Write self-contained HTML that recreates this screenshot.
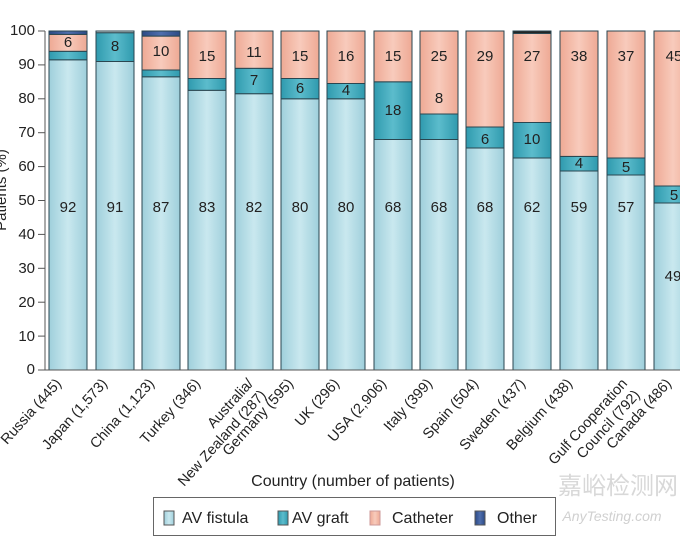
<!DOCTYPE html>
<html><head><meta charset="utf-8"><style>
html,body{margin:0;padding:0;background:#fff;width:680px;height:537px;overflow:hidden}
text{font-family:"Liberation Sans","Noto Sans CJK SC",sans-serif;fill:#222}
</style></head><body>
<svg width="680" height="537" viewBox="0 0 680 537" xmlns="http://www.w3.org/2000/svg">
<defs>
<linearGradient id="gf" x1="0" x2="1"><stop offset="0" stop-color="#9fcfdb"/><stop offset="0.5" stop-color="#c9e8ef"/><stop offset="1" stop-color="#9fcfdb"/></linearGradient>
<linearGradient id="gg" x1="0" x2="1"><stop offset="0" stop-color="#2f9aae"/><stop offset="0.5" stop-color="#5cbccc"/><stop offset="1" stop-color="#2f9aae"/></linearGradient>
<linearGradient id="gc" x1="0" x2="1"><stop offset="0" stop-color="#eea994"/><stop offset="0.5" stop-color="#f8cbbc"/><stop offset="1" stop-color="#eea994"/></linearGradient>
<linearGradient id="go" x1="0" x2="1"><stop offset="0" stop-color="#2c4a85"/><stop offset="0.5" stop-color="#4f6fae"/><stop offset="1" stop-color="#2c4a85"/></linearGradient>
</defs>
<g stroke="#555" stroke-width="1" fill="none">
<line x1="45" y1="31" x2="45" y2="370"/>
<line x1="38" y1="31" x2="45" y2="31"/><line x1="38" y1="64.9" x2="45" y2="64.9"/><line x1="38" y1="98.8" x2="45" y2="98.8"/><line x1="38" y1="132.7" x2="45" y2="132.7"/><line x1="38" y1="166.6" x2="45" y2="166.6"/><line x1="38" y1="200.5" x2="45" y2="200.5"/><line x1="38" y1="234.4" x2="45" y2="234.4"/><line x1="38" y1="268.3" x2="45" y2="268.3"/><line x1="38" y1="302.2" x2="45" y2="302.2"/><line x1="38" y1="336.1" x2="45" y2="336.1"/><line x1="38" y1="370" x2="45" y2="370"/>
</g>
<g font-size="15" text-anchor="end" dominant-baseline="middle">
<text x="35" y="31">100</text><text x="35" y="65">90</text><text x="35" y="99">80</text><text x="35" y="133">70</text><text x="35" y="167">60</text><text x="35" y="201">50</text><text x="35" y="235">40</text><text x="35" y="269">30</text><text x="35" y="303">20</text><text x="35" y="337">10</text><text x="35" y="370">0</text>
</g>
<text transform="translate(6,190) rotate(-90)" font-size="15" text-anchor="middle">Patients (%)</text>
<g stroke="#2a4650" stroke-width="1">
<rect x="49" y="59.8" width="38" height="310.2" fill="url(#gf)"/><rect x="49" y="51.3" width="38" height="8.5" fill="url(#gg)"/><rect x="49" y="34.4" width="38" height="16.9" fill="url(#gc)"/><rect x="49" y="31" width="38" height="3.4" fill="url(#go)"/>
<rect x="96" y="61.5" width="38" height="308.5" fill="url(#gf)"/><rect x="96" y="32.7" width="38" height="28.8" fill="url(#gg)"/><rect x="96" y="31" width="38" height="1.7" fill="#cfd6d6"/>
<rect x="142" y="76.8" width="38" height="293.2" fill="url(#gf)"/><rect x="142" y="70" width="38" height="6.8" fill="url(#gg)"/><rect x="142" y="36.1" width="38" height="33.9" fill="url(#gc)"/><rect x="142" y="31" width="38" height="5.1" fill="url(#go)"/>
<rect x="188" y="90.3" width="38" height="279.7" fill="url(#gf)"/><rect x="188" y="78.5" width="38" height="11.8" fill="url(#gg)"/><rect x="188" y="31" width="38" height="47.5" fill="url(#gc)"/>
<rect x="235" y="93.7" width="38" height="276.3" fill="url(#gf)"/><rect x="235" y="68.3" width="38" height="25.4" fill="url(#gg)"/><rect x="235" y="31" width="38" height="37.3" fill="url(#gc)"/>
<rect x="281" y="98.8" width="38" height="271.2" fill="url(#gf)"/><rect x="281" y="78.5" width="38" height="20.3" fill="url(#gg)"/><rect x="281" y="31" width="38" height="47.5" fill="url(#gc)"/>
<rect x="327" y="98.8" width="38" height="271.2" fill="url(#gf)"/><rect x="327" y="83.5" width="38" height="15.3" fill="url(#gg)"/><rect x="327" y="31" width="38" height="52.5" fill="url(#gc)"/>
<rect x="374" y="139.5" width="38" height="230.5" fill="url(#gf)"/><rect x="374" y="81.8" width="38" height="57.7" fill="url(#gg)"/><rect x="374" y="31" width="38" height="50.8" fill="url(#gc)"/>
<rect x="420" y="139.5" width="38" height="230.5" fill="url(#gf)"/><rect x="420" y="114" width="38" height="25.5" fill="url(#gg)"/><rect x="420" y="31" width="38" height="83" fill="url(#gc)"/>
<rect x="466" y="148" width="38" height="222" fill="url(#gf)"/><rect x="466" y="127" width="38" height="21" fill="url(#gg)"/><rect x="466" y="31" width="38" height="96" fill="url(#gc)"/>
<rect x="513" y="158" width="38" height="212" fill="url(#gf)"/><rect x="513" y="122.5" width="38" height="35.5" fill="url(#gg)"/><rect x="513" y="33.4" width="38" height="89.1" fill="url(#gc)"/><rect x="513" y="31" width="38" height="2.4" fill="#222"/>
<rect x="560" y="171" width="38" height="199" fill="url(#gf)"/><rect x="560" y="156.4" width="38" height="14.6" fill="url(#gg)"/><rect x="560" y="31" width="38" height="125.4" fill="url(#gc)"/>
<rect x="607" y="175" width="38" height="195" fill="url(#gf)"/><rect x="607" y="158" width="38" height="17" fill="url(#gg)"/><rect x="607" y="31" width="38" height="127" fill="url(#gc)"/>
<rect x="654" y="203" width="38" height="167" fill="url(#gf)"/><rect x="654" y="186" width="38" height="17" fill="url(#gg)"/><rect x="654" y="31" width="38" height="155" fill="url(#gc)"/>
</g>
<line x1="45" y1="370" x2="680" y2="370" stroke="#555" stroke-width="1"/>
<g font-size="15" text-anchor="middle" dominant-baseline="middle">
<text x="68" y="208">92</text><text x="115" y="208">91</text><text x="161" y="208">87</text><text x="207" y="208">83</text><text x="254" y="208">82</text><text x="300" y="208">80</text><text x="346" y="208">80</text><text x="393" y="208">68</text><text x="439" y="208">68</text><text x="485" y="208">68</text><text x="532" y="208">62</text><text x="579" y="208">59</text><text x="626" y="208">57</text><text x="673" y="277">49</text>
<text x="115" y="47">8</text><text x="254" y="81">7</text><text x="300" y="89">6</text><text x="346" y="91">4</text><text x="393" y="111">18</text><text x="439" y="99">8</text><text x="485" y="140">6</text><text x="532" y="140">10</text><text x="579" y="164">4</text><text x="626" y="168">5</text><text x="674" y="196">5</text>
<text x="68" y="43">6</text><text x="161" y="52">10</text><text x="207" y="57">15</text><text x="254" y="53">11</text><text x="300" y="57">15</text><text x="346" y="57">16</text><text x="393" y="57">15</text><text x="439" y="57">25</text><text x="485" y="57">29</text><text x="532" y="57">27</text><text x="579" y="57">38</text><text x="626" y="57">37</text><text x="674" y="57">45</text>
</g>
<g font-size="14.5" text-anchor="end">
<text transform="translate(62,384) rotate(-48)">Russia (445)</text>
<text transform="translate(108,384) rotate(-48)">Japan (1,573)</text>
<text transform="translate(155,384) rotate(-48)">China (1,123)</text>
<text transform="translate(201,384) rotate(-48)">Turkey (346)</text>
<text transform="translate(254,384) rotate(-48)"><tspan x="0" y="0">Australia/</tspan><tspan x="0" y="17">New Zealand (287)</tspan></text>
<text transform="translate(294,384) rotate(-48)">Germany (595)</text>
<text transform="translate(340,384) rotate(-48)">UK (296)</text>
<text transform="translate(387,384) rotate(-48)">USA (2,906)</text>
<text transform="translate(433,384) rotate(-48)">Italy (399)</text>
<text transform="translate(479,384) rotate(-48)">Spain (504)</text>
<text transform="translate(526,384) rotate(-48)">Sweden (437)</text>
<text transform="translate(573,384) rotate(-48)">Belgium (438)</text>
<text transform="translate(628,384) rotate(-48)"><tspan x="0" y="0">Gulf Cooperation</tspan><tspan x="0" y="17">Council (792)</tspan></text>
<text transform="translate(672,384) rotate(-48)">Canada (486)</text>
</g>
<text x="353" y="486" font-size="16" text-anchor="middle">Country (number of patients)</text>
<rect x="153.5" y="497.5" width="402" height="38" fill="#fff" stroke="#666"/>
<g stroke="#555" stroke-width="1">
<rect x="164" y="511" width="10" height="14" fill="url(#gf)"/>
<rect x="278" y="511" width="10" height="14" fill="url(#gg)"/>
<rect x="370" y="511" width="10" height="14" fill="url(#gc)" stroke="#c99"/>
<rect x="475" y="511" width="10" height="14" fill="url(#go)"/>
</g>
<g font-size="16" dominant-baseline="middle">
<text x="182" y="519">AV fistula</text><text x="292" y="519">AV graft</text><text x="392" y="519">Catheter</text><text x="497" y="519">Other</text>
</g>
<text x="618" y="494" font-size="24" style="fill:#d8d8d8" text-anchor="middle">嘉峪检测网</text>
<text x="612" y="521" font-size="14" font-style="italic" style="fill:#d0d0d0" text-anchor="middle">AnyTesting.com</text>
</svg>
</body></html>
